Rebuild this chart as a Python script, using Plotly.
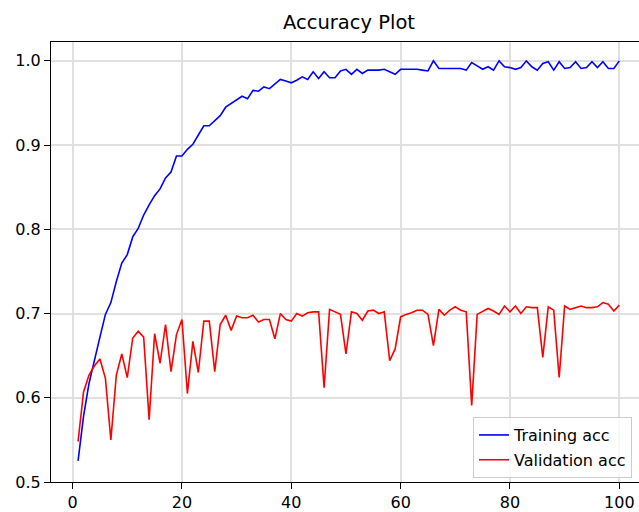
import plotly.graph_objects as go

epochs = list(range(1, 101))

train_acc = [
    0.525, 0.578, 0.617, 0.646, 0.672, 0.699, 0.713, 0.738, 0.760, 0.770,
    0.791, 0.801, 0.817, 0.829, 0.840, 0.848, 0.861, 0.868, 0.887, 0.887,
    0.895, 0.901, 0.912, 0.923, 0.923, 0.929, 0.935, 0.945, 0.949, 0.953,
    0.958, 0.955, 0.965, 0.964, 0.969, 0.967, 0.973, 0.978, 0.976, 0.974,
    0.977, 0.981, 0.978, 0.987, 0.979, 0.987, 0.980, 0.980, 0.988, 0.990,
    0.984, 0.990, 0.985, 0.989, 0.989, 0.989, 0.990, 0.987, 0.984, 0.990,
    0.990, 0.990, 0.990, 0.989, 0.988, 1.000, 0.991, 0.991, 0.991, 0.991,
    0.991, 0.989, 0.998, 0.994, 0.990, 0.993, 0.989, 1.000, 0.993, 0.992,
    0.990, 0.992, 1.000, 0.993, 0.989, 0.997, 0.999, 0.989, 0.999, 0.991,
    0.992, 0.999, 0.991, 0.992, 0.999, 0.992, 0.999, 0.991, 0.991, 1.000,
]

val_acc = [
    0.548, 0.607, 0.627, 0.638, 0.646, 0.623, 0.550, 0.627, 0.652, 0.624,
    0.671, 0.679, 0.672, 0.574, 0.676, 0.641, 0.687, 0.631, 0.675, 0.693,
    0.605, 0.667, 0.630, 0.691, 0.691, 0.631, 0.687, 0.698, 0.680, 0.697,
    0.695, 0.695, 0.698, 0.690, 0.693, 0.693, 0.670, 0.700, 0.693, 0.691,
    0.700, 0.697, 0.701, 0.702, 0.702, 0.612, 0.705, 0.702, 0.699, 0.652,
    0.702, 0.700, 0.692, 0.703, 0.704, 0.700, 0.702, 0.644, 0.658, 0.696,
    0.699, 0.701, 0.704, 0.704, 0.699, 0.662, 0.705, 0.698, 0.704, 0.708,
    0.704, 0.702, 0.591, 0.699, 0.703, 0.706, 0.703, 0.699, 0.709, 0.702,
    0.709, 0.700, 0.708, 0.707, 0.707, 0.648, 0.708, 0.704, 0.624, 0.709,
    0.705, 0.707, 0.709, 0.707, 0.707, 0.708, 0.713, 0.711, 0.703, 0.710,
]

x_ticks = [0, 20, 40, 60, 80, 100]
y_ticks = [0.5, 0.6, 0.7, 0.8, 0.9, 1.0]
title_text = "Accuracy Plot"

FONT = "DejaVu Sans"

fig = go.Figure()
fig.add_trace(go.Scatter(x=epochs, y=train_acc, mode="lines", name="Training acc",
                         line=dict(color="#0000ff", width=1.6), legendgroup="a"))
fig.add_trace(go.Scatter(x=epochs, y=val_acc, mode="lines", name="Validation acc",
                         line=dict(color="#ff0000", width=1.6), legendgroup="b"))

fig.update_layout(
    width=639, height=512,
    margin=dict(l=51, r=0, t=42, b=26),
    paper_bgcolor="white", plot_bgcolor="white",
    font=dict(family=FONT, size=16, color="#000000"),
    showlegend=True,
    legend=dict(
        x=0.7177, xanchor="left", y=0.009, yanchor="bottom",
        bgcolor="rgba(255,255,255,0.8)", bordercolor="#cccccc", borderwidth=1,
        font=dict(family=FONT, size=16, color="#000000"),
        tracegroupgap=1, traceorder="grouped",
    ),
    annotations=[dict(
        text=title_text, x=50.5, xref="x", y=1, yref="paper",
        xanchor="center", yanchor="bottom", yshift=6, showarrow=False,
        font=dict(family=FONT, size=19.5, color="#000000"),
    )],
)

fig.update_xaxes(
    range=[-3.95, 103.6], tickvals=x_ticks,
    showgrid=True, gridcolor="#e0e0e0", gridwidth=1.6, zeroline=False,
    showline=True, linecolor="#000000", linewidth=1.1, mirror=True,
    ticks="outside", ticklen=6, tickwidth=1.1, tickcolor="#000000",
)
fig.update_yaxes(
    range=[0.5, 1.0224], tickvals=y_ticks, tickformat=".1f",
    showgrid=True, gridcolor="#e0e0e0", gridwidth=1.6, zeroline=False,
    showline=True, linecolor="#000000", linewidth=1.1, mirror=False,
    ticks="outside", ticklen=6, tickwidth=1.1, tickcolor="#000000",
)

fig.write_html("out.html")
